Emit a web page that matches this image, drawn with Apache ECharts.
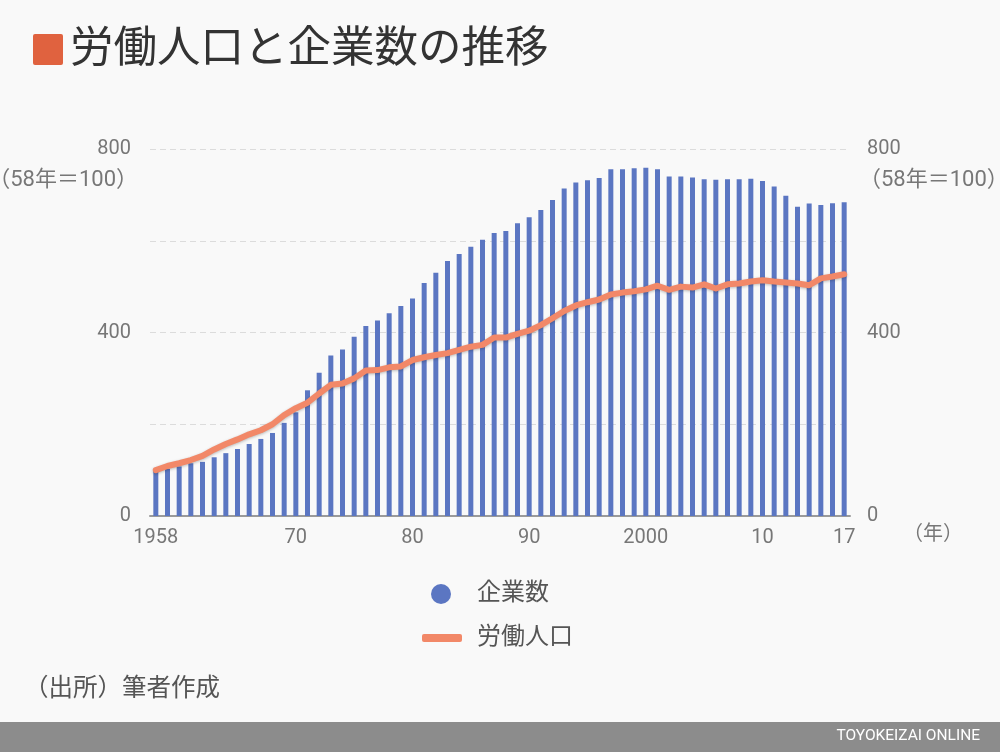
<!DOCTYPE html>
<html><head><meta charset="utf-8">
<script src="https://cdn.jsdelivr.net/npm/echarts@6/dist/echarts.min.js"></script>
<style>html,body{margin:0;padding:0;background:#f9f9f9;}#c{width:1000px;height:752px;}</style>
</head><body><div id="c"></div>
<script>
const years = ['1958','1959','1960','1961','1962','1963','1964','1965','1966','1967','1968','1969',
'1970','1971','1972','1973','1974','1975','1976','1977','1978','1979',
'1980','1981','1982','1983','1984','1985','1986','1987','1988','1989',
'1990','1991','1992','1993','1994','1995','1996','1997','1998','1999',
'2000','2001','2002','2003','2004','2005','2006','2007','2008','2009',
'2010','2011','2012','2013','2014','2015','2016','2017'];
const companies = [100,103,108,115,118,128,137,146,157,168,181,203,
226,274,312,350,363,391,414,426,442,458,
474,508,530,556,571,587,602,617,621,638,
651,667,689,714,727,732,737,756,756,758,
759,756,740,740,738,734,733,734,734,735,
730,718,698,674,681,678,682,684];
const labor = [100,109,115,122,131,145,157,167,178,187,200,220,
235,247,267,286,289,300,317,318,324,326,
340,346,351,355,362,369,373,389,389,397,
404,416,431,447,459,466,472,483,487,490,
494,502,493,500,498,505,496,505,507,511,
514,511,509,507,503,518,522,527];
const tickYears = ['1958','1970','1980','1990','2000','2010','2017'];
const tickLabels = ['1958','70','80','90','2000','10','17'];
const yLabels = ['0','400','800'];

const FONT = "Roboto, 'Noto Sans CJK JP', sans-serif";
const chart = echarts.init(document.getElementById('c'));
const showTick = (i, v) => tickYears.indexOf(v) >= 0;
const yFmt = v => yLabels.indexOf(String(v)) >= 0 ? String(v) : '';
chart.setOption({
  backgroundColor: '#f9f9f9',
  animation: false,
  grid: {left: 150, right: 150, top: 149, bottom: 236},
  xAxis: {
    type: 'category', data: years, boundaryGap: true,
    axisLine: {lineStyle: {color: '#9a9a9a', width: 2}},
    axisTick: {alignWithLabel: true, interval: showTick, length: 6, lineStyle: {color: '#bbb', width: 1}},
    axisLabel: {interval: showTick, formatter: v => tickLabels[tickYears.indexOf(v)], color: '#777', fontSize: 20, fontFamily: FONT, margin: 12}
  },
  yAxis: [
    {type: 'value', min: 0, max: 800, interval: 200,
     axisLine: {show: false}, axisTick: {show: false},
     axisLabel: {formatter: yFmt, color: '#777', fontSize: 20, fontFamily: FONT, margin: 19},
     splitLine: {lineStyle: {color: '#dcdcdc', type: [6, 4], width: 1}}},
    {type: 'value', min: 0, max: 800, interval: 200, position: 'right',
     axisLine: {show: false}, axisTick: {show: false},
     axisLabel: {formatter: yFmt, color: '#777', fontSize: 20, fontFamily: FONT, margin: 17},
     splitLine: {show: false}}
  ],
  legend: [
    {data: ['企業数'], left: 431, top: 582, padding: 0, icon: 'circle', itemWidth: 20, itemHeight: 20,
     textStyle: {color: '#555', fontSize: 24, fontFamily: FONT, padding: [0, 0, 0, 21]}},
    {data: ['労働人口'], left: 422, top: 626, padding: 0, icon: 'roundRect', itemWidth: 40, itemHeight: 8,
     textStyle: {color: '#555', fontSize: 24, fontFamily: FONT, padding: [0, 0, 0, 10]}}
  ],
  series: [
    {name: '企業数', type: 'bar', data: companies, barWidth: 5,
     itemStyle: {color: '#5b76c2'}},
    {name: '労働人口', type: 'line', yAxisIndex: 1, data: labor, symbol: 'none',
     lineStyle: {color: '#f28868', width: 6, cap: 'round', join: 'round',
       shadowColor: 'rgba(0,0,0,0.25)', shadowBlur: 3, shadowOffsetY: 1},
     itemStyle: {color: '#f28868'}}
  ],
  graphic: [
    {type: 'rect', shape: {x: 33, y: 34, width: 30, height: 31, r: 2}, style: {fill: '#e0623f'}},
    {type: 'text', left: 70, top: 29, style: {text: '労働人口と企業数の推移', fill: '#333', fontSize: 43.5, fontFamily: FONT}},
    {type: 'text', right: 862, top: 169, style: {text: '（58年＝100）', fill: '#777', fontSize: 22, fontFamily: FONT}},
    {type: 'text', left: 859, top: 169, style: {text: '（58年＝100）', fill: '#777', fontSize: 22, fontFamily: FONT}},
    {type: 'text', left: 903, top: 525, style: {text: '（年）', fill: '#777', fontSize: 20, fontFamily: FONT}},
    {type: 'text', left: 24, top: 678, style: {text: '（出所）筆者作成', fill: '#555', fontSize: 24.5, fontFamily: FONT}},
    {type: 'rect', shape: {x: 0, y: 722, width: 1000, height: 30}, style: {fill: '#8c8c8c'}},
    {type: 'text', right: 20, top: 728, style: {text: 'TOYOKEIZAI ONLINE', fill: '#fff', fontSize: 15.5, fontFamily: FONT}}
  ]
});
</script></body></html>
